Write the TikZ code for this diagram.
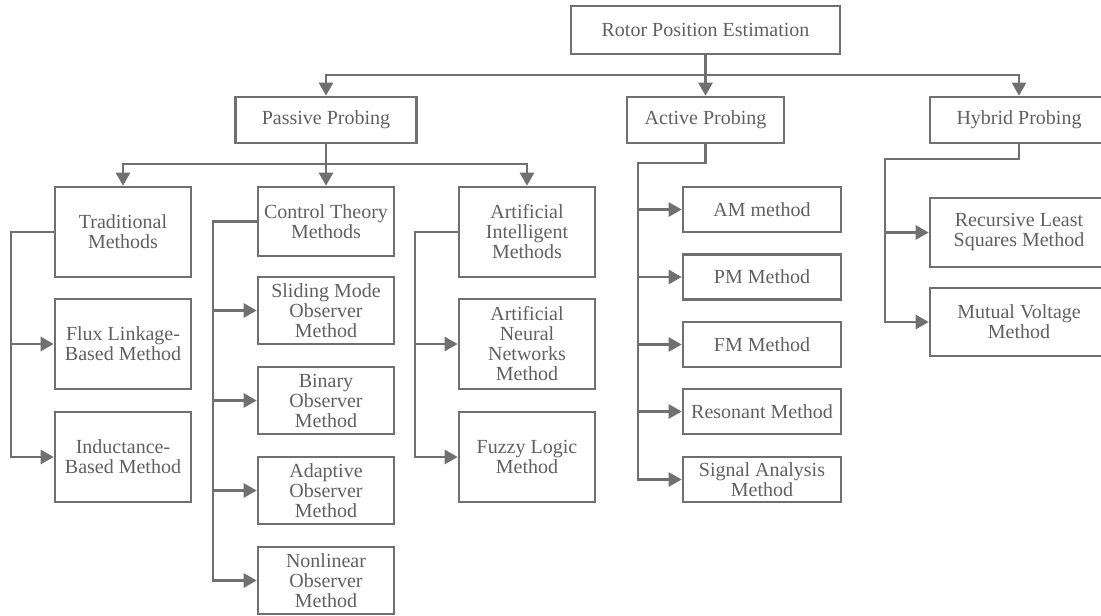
\documentclass[tikz,border=0pt]{standalone}
\usepackage{fontspec}
\setmainfont{Liberation Serif}
\usepackage{xcolor}
\usepackage{tikz}
\usetikzlibrary{arrows.meta,positioning}
\definecolor{ink}{RGB}{112,112,112}
\definecolor{inktext}{RGB}{96,96,96}

\begin{document}
\begin{tikzpicture}[x=1pt,y=-1pt,
  every node/.style={font=\fontsize{20}{20}\selectfont,text=inktext},
  box/.style={draw=ink,line width=2.6pt,align=center,inner sep=0pt},
  probe/.style={box,minimum height=46pt},
  meth/.style={box,minimum width=136pt},
  amod/.style={box,minimum width=158pt,minimum height=45pt},
  hmod/.style={box,minimum width=178pt},
  arr/.style={-{Triangle[length=13pt,width=14pt]},draw=ink,line width=2.5pt}]
\useasboundingbox (0,0) rectangle (1101,616);

% top levels
\node[box,minimum width=269pt,minimum height=48pt] (root) at (705.5,30) {Rotor Position Estimation};
\node[probe,minimum width=181pt] (passive) at (326,120) {Passive Probing};
\node[probe,minimum width=157pt] (active) at (705.5,120) {Active Probing};
\node[probe,minimum width=178pt] (hybrid) at (1019,120) {Hybrid Probing};

% passive probing
\node[meth,minimum height=90pt] (trad) at (123,232) {Traditional\\Methods};
\node[meth,minimum height=69pt] (control) at (326,221.5) {Control Theory\\Methods};
\node[meth,minimum height=90pt] (ai) at (527,232) {Artificial\\Intelligent\\Methods};
\node[meth,minimum height=90pt] (flux) at (123,344) {Flux Linkage-\\Based Method};
\node[meth,minimum height=90pt] (induct) at (123,457) {Inductance-\\Based Method};
\node[meth,minimum height=67pt] (sliding) at (326,310.5) {Sliding Mode\\Observer\\Method};
\node[meth,minimum height=67pt] (binary) at (326,400.5) {Binary\\Observer\\Method};
\node[meth,minimum height=67pt] (adapt) at (326,490.5) {Adaptive\\Observer\\Method};
\node[meth,minimum height=67pt] (nonlin) at (326,580.5) {Nonlinear\\Observer\\Method};
\node[meth,minimum height=90pt] (ann) at (527,344) {Artificial\\Neural\\Networks\\Method};
\node[meth,minimum height=90pt] (fuzzy) at (527,457) {Fuzzy Logic\\Method};

% active probing
\node[amod] (am) at (762,209.5) {AM method};
\node[amod] (pm) at (762,277) {PM Method};
\node[amod] (fm) at (762,344.5) {FM Method};
\node[amod] (reson) at (762,411.5) {Resonant Method};
\node[amod] (signal) at (762,479.5) {Signal Analysis\\Method};

% hybrid probing
\node[hmod,minimum height=69pt] (rls) at (1019,232.5) {Recursive Least\\Squares Method};
\node[hmod,minimum height=68pt] (mutual) at (1019,322) {Mutual Voltage\\Method};

% rails
\coordinate (bus) at (0,75);
\coordinate (pbus) at (0,164);
\coordinate (trail) at (11,0);
\coordinate (crail) at (213,0);
\coordinate (airail) at (415,0);
\coordinate (arail) at (638,163);
\coordinate (hrail) at (885,159);

\draw[arr] (root.south) -- (active.north);
\draw[arr] (root.south |- bus) -| (passive.north);
\draw[arr] (root.south |- bus) -| (hybrid.north);

\draw[arr] (passive.south) -- (control.north);
\draw[arr] (passive.south |- pbus) -| (trad.north);
\draw[arr] (passive.south |- pbus) -| (ai.north);

\draw[arr] (trad.west) -- (trad.west -| trail) |- (induct.west);
\draw[arr] (trail |- flux.west) -- (flux.west);

\draw[arr] (control.west) -- (control.west -| crail) |- (nonlin.west);
\foreach \n in {sliding,binary,adapt}
  \draw[arr] (crail |- \n.west) -- (\n.west);

\draw[arr] (ai.west) -- (ai.west -| airail) |- (fuzzy.west);
\draw[arr] (airail |- ann.west) -- (ann.west);

\draw[arr] (active.south) |- (arail) |- (signal.west);
\foreach \n in {am,pm,fm,reson}
  \draw[arr] (arail |- \n.west) -- (\n.west);

\draw[arr] (hybrid.south) |- (hrail) |- (mutual.west);
\draw[arr] (hrail |- rls.west) -- (rls.west);
\end{tikzpicture}
\end{document}
